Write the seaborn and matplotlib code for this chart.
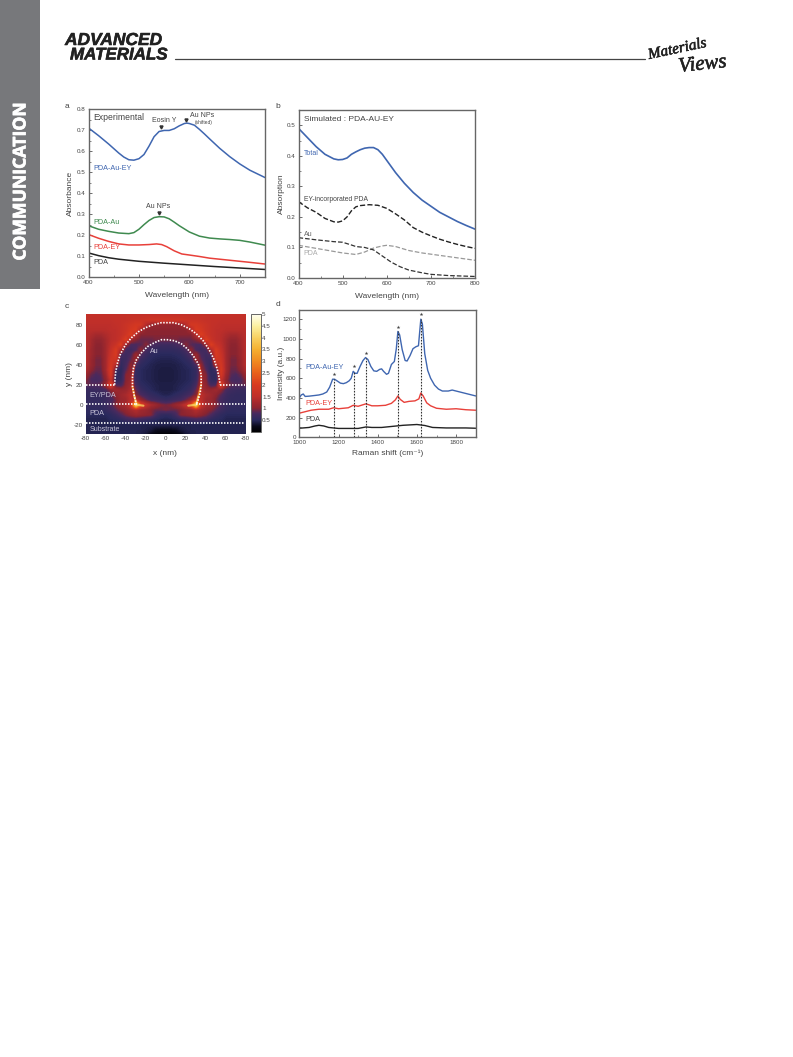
import matplotlib
matplotlib.use('Agg')
import matplotlib.pyplot as plt
import matplotlib.patheffects as pe
from matplotlib.colors import LinearSegmentedColormap
from matplotlib.ticker import MultipleLocator
import numpy as np
import pandas as pd
import seaborn as sns

# panel a, experimental absorbance
a_blue_x = [400, 420, 440, 460, 470, 480, 490, 500, 510, 520, 530, 540, 550, 560, 570, 580, 590, 595, 600, 610, 620, 630, 640, 660, 680, 700, 720, 750]
a_blue_y = [.712, .675, .635, .592, .573, .56, .558, .565, .585, .625, .67, .695, .70, .70, .708, .722, .733, .735, .733, .725, .705, .683, .66, .615, .575, .54, .51, .475]
a_green_x = [400, 420, 440, 460, 480, 490, 500, 510, 520, 530, 540, 550, 560, 570, 580, 600, 620, 640, 660, 680, 700, 720, 750]
a_green_y = [.245, .228, .218, .21, .207, .212, .228, .25, .27, .284, .288, .287, .278, .262, .245, .215, .195, .186, .182, .179, .175, .167, .152]
a_red_x = [400, 420, 440, 460, 480, 500, 520, 535, 545, 555, 570, 585, 600, 620, 640, 660, 680, 700, 720, 750]
a_red_y = [.203, .185, .17, .158, .153, .153, .155, .158, .155, .145, .125, .11, .105, .098, .09, .085, .08, .075, .07, .062]
a_black_x = [400, 420, 440, 460, 480, 500, 550, 600, 650, 700, 750]
a_black_y = [.115, .102, .092, .085, .08, .075, .066, .058, .05, .043, .036]

# panel b, simulated absorption
b_total_x = [400, 420, 440, 460, 480, 490, 500, 510, 520, 530, 540, 550, 560, 570, 580, 590, 600, 620, 640, 660, 680, 700, 720, 740, 760, 780, 800]
b_total_y = [.49, .46, .43, .405, .39, .387, .388, .393, .405, .413, .42, .425, .427, .427, .42, .405, .385, .345, .31, .28, .255, .235, .215, .2, .185, .172, .16]
b_ey_x = [400, 420, 440, 460, 480, 490, 500, 510, 520, 530, 540, 560, 580, 600, 620, 640, 660, 680, 700, 720, 740, 760, 780, 800]
b_ey_y = [.25, .23, .215, .195, .184, .183, .187, .2, .22, .233, .237, .24, .238, .228, .21, .19, .165, .15, .138, .127, .118, .11, .103, .097]
b_au_x = [400, 440, 480, 500, 520, 530, 550, 570, 590, 610, 630, 650, 680, 700, 740, 800]
b_au_y = [.132, .125, .119, .117, .108, .103, .1, .092, .072, .052, .037, .026, .017, .012, .008, .005]
b_pda_x = [400, 440, 480, 500, 530, 550, 570, 590, 600, 620, 650, 680, 700, 750, 800]
b_pda_y = [.107, .097, .087, .082, .077, .085, .098, .105, .107, .103, .09, .082, .078, .068, .058]

# panel c, field map: rows y = 90..-30, columns |x| = 0..80 (5 nm steps)
field_y = [90, 85, 80, 75, 70, 65, 60, 55, 50, 45, 40, 35, 30, 25, 20, 15, 10, 5, 0, -5, -10, -15, -20, -25, -30]
field_half = [
    [1.6, 1.6, 1.6, 1.6, 1.6, 1.6, 1.6, 1.6, 1.6, 1.6, 1.6, 1.6, 1.6, 1.6, 1.6, 1.6, 1.6],
    [1.8, 1.8, 1.8, 1.8, 1.75, 1.7, 1.7, 1.65, 1.6, 1.6, 1.6, 1.55, 1.55, 1.55, 1.55, 1.55, 1.55],
    [1.1, 1.1, 1.1, 1.15, 1.4, 1.9, 1.9, 1.8, 1.7, 1.6, 1.55, 1.5, 1.5, 1.5, 1.5, 1.5, 1.5],
    [1.02, 1.02, 1.02, 1.02, 1.05, 1.3, 2.0, 1.9, 1.7, 1.6, 1.5, 1.5, 1.45, 1.45, 1.45, 1.45, 1.45],
    [1.0, 1.0, 1.0, 1.0, 1.0, 1.0, 1.4, 2.1, 1.8, 1.6, 1.5, 1.45, 1.35, 1.25, 1.25, 1.35, 1.45],
    [.95, .95, .95, .9, .9, .9, 1.0, 1.2, 2.1, 1.7, 1.5, 1.45, 1.25, 1.1, 1.1, 1.25, 1.45],
    [.7, .7, .75, .85, 1.0, .85, .8, .8, 1.1, 2.1, 1.7, 1.5, 1.25, 1.03, 1.03, 1.25, 1.45],
    [.58, .58, .6, .65, .8, 1.05, .8, .7, .75, 1.3, 2.0, 1.6, 1.25, 1.0, 1.0, 1.2, 1.45],
    [.5, .5, .52, .55, .65, .85, 1.15, .8, .7, .8, 2.0, 1.7, 1.25, 1.0, 1.0, 1.2, 1.45],
    [.45, .45, .47, .5, .55, .65, 1.15, .9, .7, .65, 1.8, 1.8, 1.25, .95, .95, 1.15, 1.45],
    [.42, .42, .43, .46, .5, .55, .8, 1.05, .75, .58, 1.4, 1.9, 1.25, .95, .95, 1.15, 1.45],
    [.4, .4, .42, .45, .47, .5, .6, 1.1, .85, .52, .7, 2.0, 1.25, .9, .9, 1.05, 1.35],
    [.4, .4, .42, .45, .47, .5, .6, 1.1, 1.0, .55, .55, 1.9, 1.15, .85, .8, .9, 1.15],
    [.4, .4, .42, .45, .47, .5, .65, 1.15, 1.0, .6, .55, 1.6, 1.05, .8, .75, .8, 1.0],
    [.42, .42, .44, .47, .5, .55, .75, 1.25, 1.05, .75, .8, 2.2, 1.15, .9, .85, .85, .9],
    [.42, .42, .45, .5, .55, .65, .9, 1.35, 1.15, 1.1, 1.2, 1.05, .8, .7, .65, .65, .65],
    [.45, .48, .55, .6, .7, .8, 1.0, 1.5, 1.3, 1.2, 1.05, .85, .7, .62, .6, .6, .6],
    [.6, .65, .7, .75, .9, 1.1, 1.6, 1.5, 1.2, 1.15, .95, .75, .65, .6, .6, .6, .6],
    [.95, 1.0, 1.15, 1.3, 1.6, 2.2, 4.5, 1.7, 1.3, 1.2, 1.0, .8, .65, .6, .6, .6, .6],
    [.95, .9, .9, 1.0, 1.15, 1.2, 1.4, 1.25, 1.1, 1.0, .85, .7, .6, .55, .55, .55, .55],
    [.55, .6, .75, 1.0, 1.05, 1.1, 1.15, 1.05, .95, .8, .65, .55, .5, .5, .5, .5, .5],
    [.45, .45, .5, .55, .6, .65, .7, .7, .65, .55, .5, .5, .45, .45, .45, .45, .45],
    [.45, .45, .45, .45, .45, .45, .45, .45, .45, .45, .45, .45, .45, .45, .45, .45, .45],
    [.25, .25, .28, .38, .42, .45, .45, .45, .45, .45, .45, .45, .45, .45, .45, .45, .45],
    [.05, .05, .1, .2, .35, .42, .45, .45, .45, .45, .45, .45, .45, .45, .45, .45, .45],
]
outer_x = [-51, -50, -48, -45, -40, -34, -27, -20, -12, -4, 2, 8, 16, 24, 31, 38, 44, 49, 52, 54, 55]
outer_y = [20, 32, 42, 51, 60, 67, 73, 77, 80, 82, 82, 82, 80, 76, 71, 64, 55, 45, 36, 27, 20]
inner_x = [-29, -31, -33, -33, -32, -29, -24, -18, -11, -4, 2, 9, 16, 22, 28, 33, 36, 36, 35, 33, 31]
inner_y = [0, 8, 18, 28, 37, 45, 52, 58, 62, 65, 65, 64, 61, 56, 49, 41, 30, 20, 12, 5, 0]
glow_hot_x = [[-22, -29, -31], [23, 31, 33]]
glow_hot_y = [[-1, 0, 8], [-1, 0, 8]]
glow_mid_x = [[-31, -33], [33, 36]]
glow_mid_y = [[8, 18], [8, 20]]
glow_low_x = [[-33, -33, -31], [36, 36, 34]]
glow_low_y = [[18, 28, 40], [20, 30, 40]]
layer_top_left = [-80, -51]
layer_top_right = [55, 80]
layer_mid_left = [-80, -29]
layer_mid_right = [31, 80]
layer_low = [-80, 80]
cbar_ticks = [.5, 1, 1.5, 2, 2.5, 3, 3.5, 4, 4.5, 5]
cbar_labels = ['0.5', '1', '1.5', '2', '2.5', '3', '3.5', '4', '4.5', '5']

# panel d, raman spectra
d_blue_x = [1000, 1010, 1020, 1030, 1050, 1080, 1100, 1120, 1140, 1155, 1170, 1180, 1195, 1210, 1225, 1240, 1255, 1265, 1275, 1285, 1295, 1310, 1325, 1338, 1350, 1365, 1380, 1395, 1410, 1420, 1430, 1445, 1455, 1470, 1485, 1495, 1503, 1512, 1525, 1540, 1550, 1565, 1580, 1595, 1608, 1620, 1628, 1640, 1655, 1670, 1690, 1710, 1730, 1760, 1780, 1800, 1830, 1860, 1900]
d_blue_y = [400, 430, 440, 415, 418, 425, 430, 440, 460, 510, 590, 590, 570, 550, 545, 555, 575, 600, 670, 650, 650, 720, 780, 810, 790, 720, 675, 670, 690, 695, 670, 640, 650, 740, 770, 900, 1075, 1040, 890, 780, 775, 830, 900, 920, 930, 1200, 1150, 850, 680, 600, 530, 490, 470, 470, 480, 470, 455, 440, 420]
d_red_x = [1000, 1030, 1060, 1100, 1150, 1175, 1200, 1250, 1275, 1300, 1340, 1370, 1400, 1440, 1470, 1490, 1503, 1515, 1535, 1560, 1590, 1610, 1620, 1632, 1650, 1670, 1700, 1750, 1800, 1850, 1900]
d_red_y = [245, 260, 275, 285, 285, 300, 290, 300, 325, 315, 340, 320, 320, 325, 345, 380, 420, 385, 355, 365, 370, 390, 450, 420, 350, 320, 295, 285, 290, 280, 275]
d_black_x = [1000, 1050, 1080, 1100, 1125, 1150, 1200, 1250, 1300, 1340, 1370, 1420, 1480, 1530, 1600, 1640, 1680, 1750, 1850, 1900]
d_black_y = [92, 100, 115, 122, 115, 100, 90, 90, 90, 105, 100, 100, 112, 122, 130, 120, 100, 95, 95, 92]
peak_x = [1175, 1277, 1340, 1503, 1620]
peak_y = [590, 670, 810, 1075, 1200]

W, H = 793, 1057
BLUE = '#3f66b0'
GREEN = '#3f8a4f'
RED = '#e8403a'
TXT = '#444444'

sns.set_theme(style='ticks')
plt.rcParams['font.family'] = ['Liberation Sans', 'DejaVu Sans']
plt.rcParams['axes.edgecolor'] = '#666666'
plt.rcParams['axes.unicode_minus'] = False
plt.rcParams['text.color'] = TXT
plt.rcParams['axes.labelcolor'] = TXT
plt.rcParams['xtick.color'] = TXT
plt.rcParams['ytick.color'] = TXT

fig = plt.figure(figsize=(W / 100, H / 100), dpi=100, facecolor='white')


def panel(left, top, right, bottom):
    return fig.add_axes([left / W, 1 - bottom / H, (right - left) / W, (bottom - top) / H])


def style(ax, xlabel, ylabel, ylab_x, pad=5):
    ax.set_xlabel(xlabel, fontsize=6, labelpad=pad)
    ax.set_ylabel(ylabel, fontsize=6)
    ax.yaxis.set_label_coords(ylab_x, .5)
    ax.tick_params(which='major', direction='in', length=2.5, width=.6, labelsize=4.5, pad=2, color='#555555')
    ax.tick_params(which='minor', direction='in', length=1.3, width=.5, color='#555555')
    for s in ax.spines.values():
        s.set_linewidth(1)


def curve(ax, x, y, color, **kw):
    df = pd.DataFrame({'x': x, 'y': y})
    sns.lineplot(data=df, x='x', y='y', ax=ax, color=color, errorbar=None, **kw)


# page furniture
bg = fig.add_axes([0, 0, 1, 1])
bg.set_xlim(0, W)
bg.set_ylim(H, 0)
bg.axis('off')
bold = [pe.withStroke(linewidth=.4, foreground='#222222')]
bg.fill_between([0, 40], 0, 289, color='#77787b', lw=0)
bg.text(20.5, 181.5, 'COMMUNICATION', rotation=90, color='white', fontsize=12.7, fontweight='bold',
        ha='center', va='center', family='Open Sans',
        path_effects=[pe.withStroke(linewidth=.5, foreground='white')])
bg.text(65, 45, 'ADVANCED', color='#222222', fontsize=12.5, fontweight='bold', style='italic',
        ha='left', va='baseline', path_effects=bold)
bg.text(70, 59.5, 'MATERIALS', color='#222222', fontsize=12.2, fontweight='bold', style='italic',
        ha='left', va='baseline', path_effects=bold)
bg.plot([175, 645], [59, 59], color='#444444', lw=.9)
thin = [pe.withStroke(linewidth=.4, foreground='#222222')]
bg.text(649, 59, 'Materials', color='#222222', fontsize=11, style='italic', rotation=12, family='Liberation Serif',
        rotation_mode='anchor', ha='left', va='baseline', path_effects=thin)
bg.text(679, 72, 'Views', color='#222222', fontsize=15, style='italic', rotation=6, family='Liberation Serif',
        rotation_mode='anchor', ha='left', va='baseline', path_effects=thin)
for lab, px, py in [('a', 67, 106), ('b', 278, 106), ('c', 67, 306), ('d', 278, 305)]:
    bg.text(px, py, lab, fontsize=6, ha='center', va='center')

# a
ax = panel(88.5, 109.5, 265, 277)
curve(ax, a_black_x, a_black_y, '#222222', lw=1.1)
curve(ax, a_red_x, a_red_y, RED, lw=1.1)
curve(ax, a_green_x, a_green_y, GREEN, lw=1.1)
curve(ax, a_blue_x, a_blue_y, BLUE, lw=1.1)
ax.set_xlim(400, 750)
ax.set_ylim(0, .8)
ax.xaxis.set_major_locator(MultipleLocator(100))
ax.xaxis.set_minor_locator(MultipleLocator(50))
ax.yaxis.set_major_locator(MultipleLocator(.1))
ax.yaxis.set_minor_locator(MultipleLocator(.05))
style(ax, 'Wavelength (nm)', 'Absorbance', -.082)
ax.text(409, .76, 'Experimental', fontsize=6.2, va='center')
ax.text(409, .519, 'PDA-Au-EY', fontsize=5.2, color=BLUE, va='center')
ax.text(409, .259, 'PDA-Au', fontsize=5.2, color=GREEN, va='center')
ax.text(409, .141, 'PDA-EY', fontsize=5.2, color=RED, va='center')
ax.text(409, .07, 'PDA', fontsize=5.2, va='center')
ax.text(550, .746, 'Eosin Y', fontsize=5, ha='center', va='center')
ax.text(626, .773, 'Au NPs', fontsize=5, ha='center', va='center')
ax.text(629, .738, '(shifted)', fontsize=3.5, ha='center', va='center')
ax.text(539, .337, 'Au NPs', fontsize=5, ha='center', va='center')
ax.plot([543, 593, 539], [.718, .75, .306], ls='none', marker='v', ms=2.2, color='#333333')

# b
ax = panel(298.5, 110, 475, 278)
curve(ax, b_pda_x, b_pda_y, '#999999', lw=.9, linestyle='--')
curve(ax, b_au_x, b_au_y, '#333333', lw=.9, linestyle='--')
curve(ax, b_ey_x, b_ey_y, '#222222', lw=1.0, linestyle='--')
curve(ax, b_total_x, b_total_y, BLUE, lw=1.2)
ax.set_xlim(400, 800)
ax.set_ylim(0, .55)
ax.xaxis.set_major_locator(MultipleLocator(100))
ax.xaxis.set_minor_locator(MultipleLocator(50))
ax.yaxis.set_major_locator(MultipleLocator(.1))
ax.yaxis.set_minor_locator(MultipleLocator(.05))
style(ax, 'Wavelength (nm)', 'Absorption', -.076)
ax.text(412, .518, 'Simulated : PDA-AU-EY', fontsize=6, va='center')
ax.text(412, .408, 'Total', fontsize=5, color=BLUE, va='center')
ax.text(412, .257, 'EY-incorporated PDA', fontsize=4.9, va='center')
ax.text(412, .143, 'Au', fontsize=5, color='#666666', va='center')
ax.text(412, .079, 'PDA', fontsize=5, color='#aaaaaa', va='center')

# c
ax = panel(85.7, 314, 245, 433.7)
half = np.array(field_half)
field = np.hstack([half[:, :0:-1], half])
field_cmap = LinearSegmentedColormap.from_list('field', [
    (0, '#000000'), (.05, '#0a0a1c'), (.1, '#2a2a5e'), (.16, '#4a2a5e'), (.2, '#8a2430'),
    (.3, '#bf2f2a'), (.4, '#d83a20'), (.5, '#e8601c'), (.6, '#f08a20'), (.7, '#f5b030'),
    (.8, '#f8d060'), (.9, '#fbf0a0'), (1, '#fffff2')])
im = ax.imshow(field, cmap=field_cmap, vmin=0, vmax=5, aspect='auto', interpolation='bilinear',
               extent=[-82.5, 82.5, field_y[-1] - 2.5, field_y[0] + 2.5])
# thin bright rim of the Au particle, too narrow for the 5 nm grid
for xs_list, ys_list, col in [(glow_low_x, glow_low_y, '#d83a20'), (glow_mid_x, glow_mid_y, '#f08a20'),
                              (glow_hot_x, glow_hot_y, '#f8d060')]:
    for xs, ys in zip(xs_list, ys_list):
        sns.lineplot(x=xs, y=ys, ax=ax, sort=False, estimator=None, color=col, lw=1.5, alpha=.8)
dot = dict(color='white', lw=1.2, linestyle=(0, (.9, .9)))
for xs, ys in [(outer_x, outer_y), (inner_x, inner_y),
               (layer_top_left, [20, 20]), (layer_top_right, [20, 20]),
               (layer_mid_left, [1, 1]), (layer_mid_right, [1, 1]), (layer_low, [-18, -18])]:
    sns.lineplot(x=xs, y=ys, ax=ax, sort=False, estimator=None, **dot)
ax.set_xlim(-80, 80)
ax.set_ylim(-29, 90.7)
ax.set_xticks([-80, -60, -40, -20, 0, 20, 40, 60, 80])
ax.set_xticklabels(['-80', '-60', '-40', '-20', '0', '20', '40', '60', '-80'])
ax.set_yticks([-20, 0, 20, 40, 60, 80])
style(ax, 'x (nm)', 'y (nm)', -.08, pad=6)
ax.tick_params(which='major', length=0)
for s in ax.spines.values():
    s.set_visible(False)
lab = '#c8c4d8'
ax.text(-76, 9, 'EY/PDA', fontsize=5.2, color=lab, va='center')
ax.text(-76, -9, 'PDA', fontsize=5.2, color=lab, va='center')
ax.text(-76, -24.5, 'Substrate', fontsize=5, color=lab, va='center')
ax.text(-15, 53, 'Au', fontsize=5, color=lab, va='center')
cax = panel(250.7, 314, 260.7, 432)
cb = fig.colorbar(im, cax=cax)
cb.set_ticks(cbar_ticks)
cb.set_ticklabels(cbar_labels)
cb.ax.tick_params(length=1.5, width=.5, labelsize=4.5, pad=1, direction='in', color='#555555')
cb.outline.set_linewidth(.7)
cb.outline.set_edgecolor('#666666')

# d
ax = panel(299.3, 310.3, 475.7, 437.3)
curve(ax, d_black_x, d_black_y, '#222222', lw=1.0)
curve(ax, d_red_x, d_red_y, RED, lw=1.0)
curve(ax, d_blue_x, d_blue_y, BLUE, lw=1.0)
ax.vlines(peak_x, 0, peak_y, color='#333333', lw=.8, linestyle=(0, (1.5, 1.2)))
ax.plot(peak_x, [p + 50 for p in peak_y], ls='none', marker='*', ms=2.8, mew=0, color='#444444')
ax.set_xlim(1000, 1900)
ax.set_ylim(0, 1290)
ax.xaxis.set_major_locator(MultipleLocator(200))
ax.xaxis.set_minor_locator(MultipleLocator(100))
ax.yaxis.set_major_locator(MultipleLocator(200))
ax.yaxis.set_minor_locator(MultipleLocator(100))
style(ax, 'Raman shift (cm\u207b\u00b9)', 'Intensity (a.u.)', -.082, pad=3.5)
ax.text(1029, 711, 'PDA-Au-EY', fontsize=5.2, color=BLUE, va='center')
ax.text(1029, 340, 'PDA-EY', fontsize=5.2, color=RED, va='center')
ax.text(1029, 178, 'PDA', fontsize=5.2, va='center')

fig.savefig('out.png', dpi=100)
